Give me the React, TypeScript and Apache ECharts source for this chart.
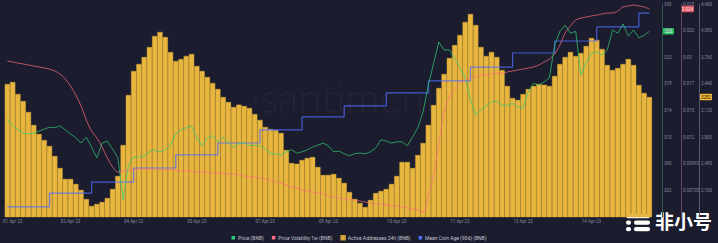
import React, { useEffect, useRef } from "react";
import * as echarts from "echarts";

// ---------- data (3-hour buckets from 01 Apr 2023) ----------
const ACTIVE_ADDRESSES = [
  3439, 3463, 3318, 3234, 3102, 2946, 2838, 2765, 2693, 2573,
  2429, 2297, 2297, 2237, 2165, 2056, 1972, 1996, 2020, 2068,
  2177, 2333, 2705, 3306, 3595, 3679, 3763, 3883, 4016, 4064,
  4004, 3823, 3715, 3739, 3775, 3799, 3655, 3595, 3523, 3451,
  3379, 3282, 3222, 3162, 3190, 3174, 3150, 3078, 3006, 2922,
  2898, 2886, 2850, 2645, 2489, 2480, 2525, 2549, 2561, 2441,
  2345, 2345, 2357, 2309, 2249, 2140, 2056, 2008, 1960, 2044,
  2128, 2153, 2177, 2237, 2333, 2501, 2501, 2429, 2585, 2729,
  2946, 3186, 3391, 3559, 3751, 3907, 4028, 4184, 4280, 4148,
  3883, 3775, 3823, 3763, 3607, 3415, 3270, 3246, 3318, 3379,
  3415, 3439, 3430, 3415, 3535, 3679, 3763, 3823, 3775, 3810,
  3895, 3992, 3968, 3859, 3667, 3607, 3631, 3679, 3739, 3667,
  3427, 3330, 3282,
];

const PRICE = [
  312.7, 311.7, 311.1, 310.6, 310.5, 310.6, 310.9, 311.2, 311.5, 311.4,
  311.7, 311.1, 310.5, 309.9, 309.1, 310.0, 308.5, 306.9, 309.1, 309.4,
  308.2, 306.9, 300.6, 305.8, 307.0, 307.0, 307.2, 307.8, 308.1, 307.8,
  308.1, 308.8, 310.5, 311.1, 311.4, 311.7, 309.9, 308.7, 309.9, 310.2,
  309.3, 310.0, 309.1, 308.5, 309.0, 309.1, 308.7, 308.8, 308.7, 308.2,
  307.5, 307.5, 307.3, 307.8, 308.1, 307.6, 307.8, 308.1, 308.5, 308.8,
  309.1, 308.7, 307.8, 307.9, 307.5, 307.2, 307.5, 307.6, 307.5, 307.8,
  308.4, 309.6, 309.4, 309.1, 309.3, 309.3, 308.7, 310.0, 311.4, 313.8,
  317.8, 321.1, 324.3, 323.1, 323.1, 321.9, 320.5, 318.9, 315.6, 313.3,
  314.1, 314.7, 315.3, 315.4, 314.8, 314.7, 315.1, 314.5, 314.4, 316.8,
  318.1, 317.8, 318.3, 318.9, 323.8, 325.9, 326.8, 325.6, 325.9, 319.3,
  321.3, 322.6, 322.8, 322.3, 323.1, 326.1, 325.6, 327.0, 325.2, 326.1,
  324.9, 325.3, 325.9,
];

const VOLATILITY = [
  0.01989, 0.01979, 0.01969, 0.0196, 0.0195, 0.0194, 0.01931, 0.01921, 0.01911, 0.01892,
  0.01863, 0.01814, 0.01746, 0.01659, 0.01553, 0.01417, 0.0131, 0.01243, 0.01155, 0.01049,
  0.00962, 0.00913, 0.00923, 0.00932, 0.00932, 0.00942, 0.00942, 0.00942, 0.00942, 0.00932,
  0.00932, 0.00932, 0.00932, 0.00923, 0.00923, 0.00923, 0.00913, 0.00913, 0.00913, 0.00903,
  0.00903, 0.00894, 0.00894, 0.00894, 0.00884, 0.00874, 0.00865, 0.00865, 0.00855, 0.00845,
  0.00836, 0.00816, 0.00807, 0.00787, 0.00768, 0.00758, 0.00739, 0.00729, 0.00719, 0.0071,
  0.007, 0.00681, 0.00671, 0.00661, 0.00651, 0.00642, 0.00642, 0.00632, 0.00622, 0.00613,
  0.00603, 0.00603, 0.00593, 0.00584, 0.00584, 0.00574, 0.00564, 0.00555, 0.00545, 0.00526,
  0.00681, 0.00884, 0.01194, 0.01495, 0.0164, 0.01717, 0.01766, 0.01805, 0.01824, 0.01834,
  0.01853, 0.01853, 0.01863, 0.01872, 0.01872, 0.01882, 0.01892, 0.01901, 0.01911, 0.01921,
  0.01931, 0.0195, 0.01979, 0.02008, 0.02056, 0.02144, 0.0226, 0.02328, 0.02386, 0.02405,
  0.02415, 0.02425, 0.02434, 0.02444, 0.02454, 0.02454, 0.02473, 0.02512, 0.02522, 0.02531,
  0.02522, 0.02512, 0.02493,
];

// daily values
const MEAN_COIN_AGE = [
  38.38, 38.9, 39.31, 39.84, 40.33, 40.78, 41.27, 41.76,
  42.17, 42.66, 43.11, 43.63, 44.16, 44.61, 45.14, 45.66,
];

const PRICE_TICKS = [302, 306, 310, 314, 318, 322, 326, 330];
const VOLATILITY_TICKS = [0.00735, 0.00993, 0.01251, 0.01509, 0.01767, 0.02025, 0.02283, 0.02541];
const ADDRESS_TICKS = [2160, 2480, 2800, 3120, 3440, 3760, 4080, 4400];
const X_LABEL_INDICES = [1, 12, 24, 36, 49, 61, 74, 86, 98, 111];

const SERIES_NAMES = [
  "Price (BNB)",
  "Price Volatility 1w (BNB)",
  "Active Addresses 24h (BNB)",
  "Mean Coin Age (90d) (BNB)",
];

const START = Date.UTC(2023, 3, 1);
const CATEGORIES = ACTIVE_ADDRESSES.map((_, i) =>
  new Date(START + i * 3 * 3600 * 1000).toISOString().slice(0, 16)
);
const MONTHS = ["Jan", "Feb", "Mar", "Apr", "May", "Jun", "Jul", "Aug", "Sep", "Oct", "Nov", "Dec"];

const BG = "#1b1c2e";
const GREEN = "#2ecc71";
const PINK = "#ff6d7e";
const YELLOW = "#e8b63f";
const BLUE = "#4f6cff";

const fmtVol = (v: number) =>
  v < 0.01
    ? String(Math.floor(v * 1e5 + 1e-6) / 1e5)
    : String(Math.floor(v * 1e3 + 1e-6) / 1e3);

const fmtDate = (s: string) => {
  const d = new Date(s + ":00Z");
  const dd = String(d.getUTCDate()).padStart(2, "0");
  return `${dd} ${MONTHS[d.getUTCMonth()]} ${String(d.getUTCFullYear()).slice(2)}`;
};

const FONT = "Roboto";
const axisLabelBase = { fontSize: 4.5, color: "#858899", margin: 2, fontFamily: FONT };

export default function App() {
  const ref = useRef<HTMLDivElement>(null);

  useEffect(() => {
    const chart = echarts.init(ref.current!, null, { renderer: "svg" });
    const lastIdx = CATEGORIES.length - 1;
    const coinAgeData: [number, number][] = MEAN_COIN_AGE.map((v, d) => [d * 8, v] as [number, number]);
    coinAgeData.push([lastIdx, MEAN_COIN_AGE[MEAN_COIN_AGE.length - 1]]);

    chart.setOption({
      animation: false,
      backgroundColor: BG,
      textStyle: { fontFamily: FONT },
      grid: { left: 0, right: 66, top: 4, bottom: 26 },
      legend: {
        top: 230,
        left: "center",
        icon: "rect",
        itemWidth: 3.5,
        itemHeight: 3.5,
        itemGap: 8,
        textStyle: { color: "#c3c5d0", fontSize: 5, fontFamily: FONT, padding: [0, 0, 0, -2] },
        data: SERIES_NAMES,
      },
      xAxis: {
        type: "category",
        data: CATEGORIES,
        boundaryGap: true,
        axisLine: { show: false },
        axisTick: { show: false },
        splitLine: { show: false },
        axisLabel: {
          ...axisLabelBase,
          margin: 2,
          interval: (index: number) => X_LABEL_INDICES.includes(index),
          formatter: (v: string) => fmtDate(v),
        },
      },
      yAxis: [
        {
          type: "value",
          position: "right",
          offset: 10,
          min: 298,
          max: 330,
          axisLine: { show: true, lineStyle: { color: "#2c5a4c", width: 1 } },
          axisTick: { show: false },
          splitLine: { show: false },
          axisLabel: { ...axisLabelBase, customValues: PRICE_TICKS },
        },
        {
          type: "value",
          position: "right",
          offset: 29,
          min: 0.00477,
          max: 0.02541,
          axisLine: { show: true, lineStyle: { color: "#6a4458", width: 1 } },
          axisTick: { show: false },
          splitLine: { show: false },
          axisLabel: { ...axisLabelBase, customValues: VOLATILITY_TICKS, formatter: (v: number) => fmtVol(v) },
        },
        {
          type: "value",
          position: "right",
          offset: 47,
          min: 1840,
          max: 4400,
          axisLine: { show: true, lineStyle: { color: "#55586a", width: 1 } },
          axisTick: { show: false },
          splitLine: { show: false },
          axisLabel: { ...axisLabelBase, customValues: ADDRESS_TICKS },
        },
        {
          type: "value",
          show: false,
          min: 38,
          max: 46,
          splitLine: { show: false },
        },
      ],
      series: [
        {
          name: SERIES_NAMES[2],
          type: "bar",
          yAxisIndex: 2,
          data: ACTIVE_ADDRESSES,
          barCategoryGap: "0%",
          color: YELLOW,
          itemStyle: { color: YELLOW, borderColor: "#cfa236", borderWidth: 0.4 },
          z: 1,
        },
        {
          name: SERIES_NAMES[3],
          type: "line",
          yAxisIndex: 3,
          data: coinAgeData,
          step: "end",
          showSymbol: false,
          color: BLUE,
          lineStyle: { color: BLUE, width: 1.2, opacity: 0.78 },
          z: 3,
        },
        {
          name: SERIES_NAMES[1],
          type: "line",
          yAxisIndex: 1,
          data: VOLATILITY,
          smooth: 0.3,
          showSymbol: false,
          color: PINK,
          lineStyle: { color: PINK, width: 1, opacity: 0.72 },
          z: 4,
        },
        {
          name: SERIES_NAMES[0],
          type: "line",
          yAxisIndex: 0,
          data: PRICE,
          showSymbol: false,
          color: GREEN,
          lineStyle: { color: GREEN, width: 1, opacity: 0.72 },
          z: 5,
        },
      ],
    });

    const lastPrice = PRICE[PRICE.length - 1];
    const lastVol = VOLATILITY[VOLATILITY.length - 1];
    const lastAA = ACTIVE_ADDRESSES[ACTIVE_ADDRESSES.length - 1];
    const yP = chart.convertToPixel({ yAxisIndex: 0 }, lastPrice) as number;
    const yV = chart.convertToPixel({ yAxisIndex: 1 }, lastVol) as number;
    const yA = chart.convertToPixel({ yAxisIndex: 2 }, lastAA) as number;

    const tag = (x: number, y: number, w: number, text: string, bg: string, fg: string) => ({
      type: "group",
      x,
      y: y - 3.2,
      z: 100,
      children: [
        { type: "rect", shape: { x: 0, y: 0, width: w, height: 6.4, r: 0.8 }, style: { fill: bg } },
        {
          type: "text",
          x: w / 2,
          y: 3.3,
          style: { text, fontSize: 4.5, fontFamily: FONT, fill: fg, align: "center", verticalAlign: "middle" },
        },
      ],
    });

    chart.setOption({
      graphic: [
        {
          type: "text",
          x: 250,
          y: 76,
          z: 0,
          silent: true,
          style: {
            text: "·santiment",
            fontSize: 42,
            fontFamily: "Lato",
            fontWeight: 300,
            fill: "rgba(255,255,255,0.055)",
          },
        },
        tag(663, yP, 11, String(Math.round(lastPrice)), "#22c35e", "#e9fff0"),
        tag(681, yV, 13, fmtVol(lastVol), "#e2505e", "#ffe9ec"),
        tag(700, yA, 12, String(lastAA), "#f0b93a", "#2a2100"),
        {
          type: "group",
          x: 0,
          y: 0,
          z: 110,
          children: [
            { type: "rect", shape: { x: 626, y: 214, width: 24, height: 4.2, r: 2 }, style: { fill: "#ffffff" } },
            { type: "rect", shape: { x: 626, y: 220.5, width: 5, height: 4.2, r: 2 }, style: { fill: "#ffffff" } },
            { type: "rect", shape: { x: 634, y: 220.5, width: 16, height: 4.2, r: 2 }, style: { fill: "#ffffff" } },
            { type: "rect", shape: { x: 626, y: 227, width: 5, height: 4.2, r: 2 }, style: { fill: "#ffffff" } },
            { type: "rect", shape: { x: 634, y: 227, width: 16, height: 4.2, r: 2 }, style: { fill: "#ffffff" } },
            {
              type: "text",
              x: 655,
              y: 211,
              style: {
                text: "非小号",
                fontSize: 19,
                fontWeight: "bold",
                fontFamily: "Noto Sans CJK SC",
                fill: "#ffffff",
              },
            },
          ],
        },
      ],
    });

    return () => chart.dispose();
  }, []);

  return (
    <div
      ref={ref}
      style={{ position: "fixed", left: 0, top: 0, width: 718, height: 243, background: BG }}
    />
  );
}
